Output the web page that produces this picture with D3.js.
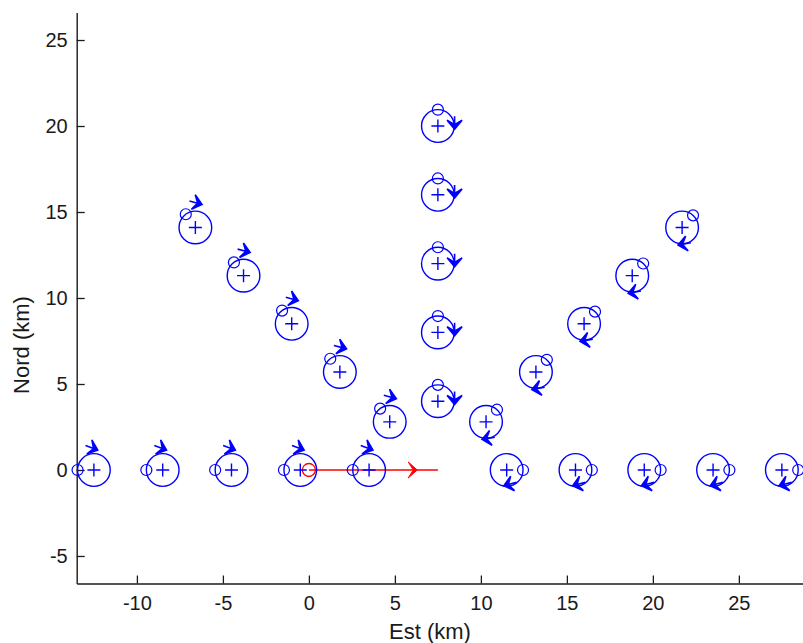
<!DOCTYPE html>
<html><head><meta charset="utf-8">
<script src="https://cdn.jsdelivr.net/npm/d3@7"></script>
<style>
html,body{margin:0;padding:0;background:#fff;}
text{font-family:"Liberation Sans",Arial,Helvetica,sans-serif;fill:#1a1a1a;}
</style></head>
<body>
<script>
// ---- data ----
const xTicks = [-10, -5, 0, 5, 10, 15, 20, 25];
const yTicks = [-5, 0, 5, 10, 15, 20, 25];
// orbit centres (km), grouped W, NW, N, NE, E
const glyphX = [-12.5, -8.5, -4.5, -0.5, 3.5,
                -6.6, -3.8, -1.0, 1.8, 4.7,
                7.5, 7.5, 7.5, 7.5, 7.5,
                10.3, 13.2, 16.0, 18.8, 21.7,
                11.5, 15.5, 19.5, 23.5, 27.5];
const glyphY = [0, 0, 0, 0, 0,
                14.1, 11.3, 8.5, 5.7, 2.8,
                20, 16, 12, 8, 4,
                2.8, 5.7, 8.5, 11.3, 14.1,
                0, 0, 0, 0, 0];
const glyphGroup = [0,0,0,0,0, 1,1,1,1,1, 2,2,2,2,2, 3,3,3,3,3, 4,4,4,4,4];
const orbitRadius = 0.95;                  // km
const startAngle = [180, 126, 90, 48, 0];  // start point on orbit (deg)
const arrowAngle = [79, 74, -11, -103, -100]; // arrow tip position on orbit (deg)
const arrowRadius = [1.18, 1.4, 0.99, 1.05, 0.93];
const arrowDir = [-20, -15, -90, 190, 195]; // arrow pointing direction (deg)
const trackX = [0, 7.5];
const trackY = [0, 0];
const trackArrowAt = 6.3;

// ---- layout ----
const W = 803, H = 643;
const svg = d3.select("body").append("svg").attr("width", W).attr("height", H);
const x = d3.scaleLinear().domain([-13.5, 28.7]).range([76.7, 802.5]);
const y = d3.scaleLinear().domain([-6.6, 26.6]).range([583.5, 12.5]);
const blue = "#0000ff", red = "#ff0000";
const rad = d => d * Math.PI / 180;

// axes
const xAxis = d3.axisBottom(x).tickValues(xTicks).tickSizeInner(-8).tickSizeOuter(0).tickPadding(12).tickFormat(d3.format("d"));
const yAxis = d3.axisLeft(y).tickValues(yTicks).tickSizeInner(-8).tickSizeOuter(0).tickPadding(9).tickFormat(d3.format("d"));
const gx = svg.append("g").attr("transform", `translate(0,${y.range()[0]})`).call(xAxis);
const gy = svg.append("g").attr("transform", `translate(${x.range()[0]},0)`).call(yAxis);
[gx, gy].forEach(g => {
  g.select(".domain").attr("stroke", "#1a1a1a").attr("stroke-width", 1.4);
  g.selectAll(".tick line").attr("stroke", "#1a1a1a").attr("stroke-width", 1.3);
  g.selectAll(".tick text").attr("font-size", 20).attr("fill", "#1a1a1a")
    .attr("font-family", "Liberation Sans, Arial, sans-serif");
});
gx.selectAll(".tick text").text(d => d < 0 ? "-" + Math.abs(d) : d);
gy.selectAll(".tick text").text(d => d < 0 ? "-" + Math.abs(d) : d);

svg.append("text").attr("x", 430).attr("y", 639).attr("text-anchor", "middle")
  .attr("font-size", 22).text("Est (km)");
svg.append("text").attr("transform", "translate(29,345) rotate(-90)").attr("text-anchor", "middle")
  .attr("font-size", 22).text("Nord (km)");

const plot = svg.append("g");

// red track
const line = d3.line().x(d => x(d[0])).y(d => y(d[1]));
plot.append("path").attr("d", line(trackX.map((v, i) => [v, trackY[i]])))
  .attr("stroke", red).attr("stroke-width", 1.5).attr("fill", "none");
plot.append("path").attr("d", "M0,0 L-9,-8 L-4,0 L-9,8 Z")
  .attr("transform", `translate(${x(trackArrowAt)},${y(trackY[0])})`)
  .attr("fill", red).attr("stroke", red).attr("stroke-width", 1);
plot.append("circle").attr("cx", x(trackX[0])).attr("cy", y(trackY[0])).attr("r", 6.5)
  .attr("fill", "none").attr("stroke", red).attr("stroke-width", 1.3);

// blue orbit glyphs
const k = x(1) - x(0);
glyphX.forEach((gxv, i) => {
  const g = glyphGroup[i];
  const cx = x(gxv), cy = y(glyphY[i]);
  plot.append("circle").attr("cx", cx).attr("cy", cy).attr("r", orbitRadius * k)
    .attr("fill", "none").attr("stroke", blue).attr("stroke-width", 1.4);
  // centre "+"
  plot.append("path").attr("d", `M${cx-6.5},${cy} H${cx+6.5} M${cx},${cy-6.5} V${cy+6.5}`)
    .attr("stroke", blue).attr("stroke-width", 1.4);
  // start marker
  const sa = rad(startAngle[g]);
  plot.append("circle").attr("cx", x(gxv + orbitRadius * Math.cos(sa)))
    .attr("cy", y(glyphY[i] + orbitRadius * Math.sin(sa))).attr("r", 5.5)
    .attr("fill", "none").attr("stroke", blue).attr("stroke-width", 1.2);
  // direction arrow
  const aa = rad(arrowAngle[g]);
  const tx = x(gxv + arrowRadius[g] * Math.cos(aa));
  const ty = y(glyphY[i] + arrowRadius[g] * Math.sin(aa));
  plot.append("path").attr("d", "M0,0 L-9,-7.5 L-4.5,0 L-9,7.5 Z M-4.5,0 L-13,0")
    .attr("transform", `translate(${tx},${ty}) rotate(${-arrowDir[g]})`)
    .attr("fill", blue).attr("stroke", blue).attr("stroke-width", 1.6).attr("stroke-linejoin", "miter");
});
</script>
</body></html>
